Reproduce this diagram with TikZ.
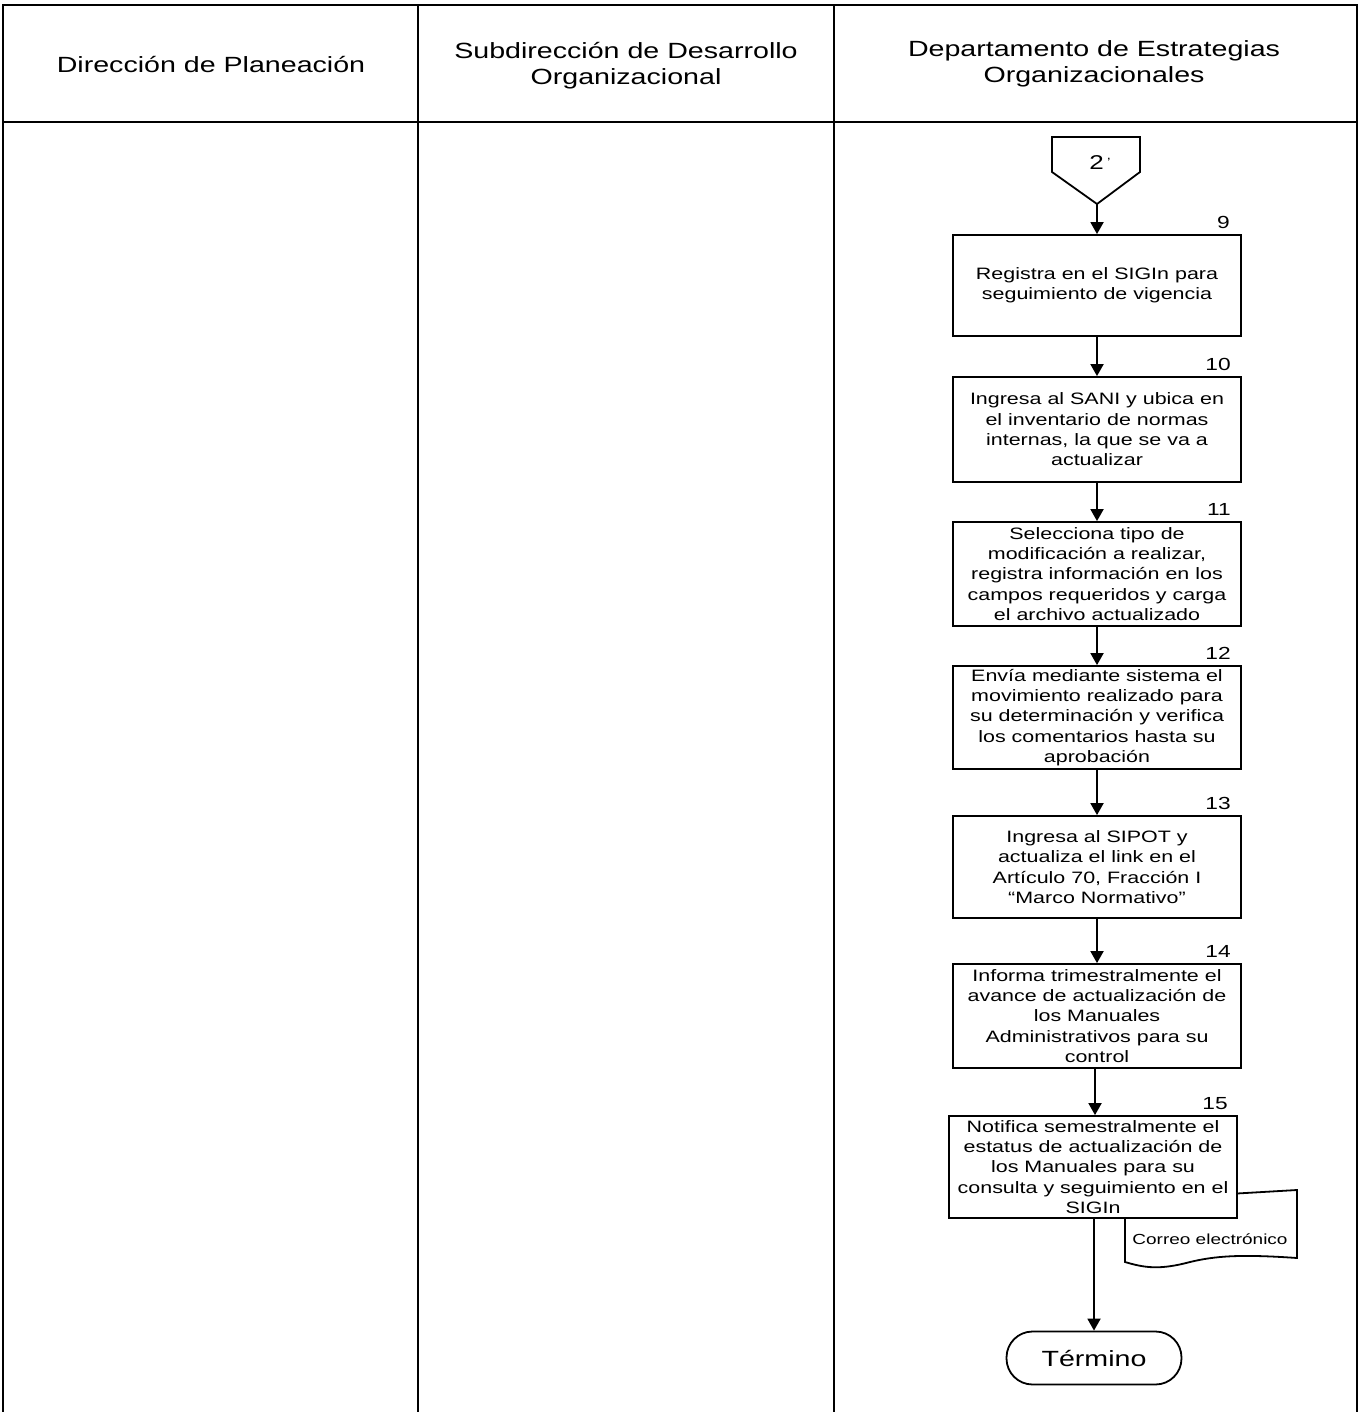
\documentclass[tikz,border=0pt]{standalone}
\usepackage{fontspec}
\setmainfont{Liberation Sans}[FakeStretch=1.3]
\usetikzlibrary{arrows.meta}
\begin{document}
\begin{tikzpicture}[x=1pt,y=-1pt,
  lane/.style={line width=1.6pt},
  hdr/.style={font=\fontsize{22}{26}\selectfont, align=center},
  proc/.style={draw, line width=1.8pt, fill=white, minimum width=288pt, align=center,
    inner sep=0pt, font=\fontsize{16.5}{20.3}\selectfont},
  num/.style={anchor=south east, inner sep=0pt, font=\fontsize{17.5}{20}\selectfont},
  flow/.style={line width=1.8pt, -{Triangle[length=12pt,width=13pt]}}]
\useasboundingbox (0,0) rectangle (1363,1412);
% lanes
\draw[lane] (3,1412) -- (3,5) -- (1357,5) -- (1357,1412);
\draw[lane] (418,5) -- (418,1412);
\draw[lane] (834,5) -- (834,1412);
\draw[lane] (3,122) -- (1357,122);
\node[hdr] (h1) at (211,65) {Dirección de Planeación};
\node[hdr] (h2) at (626,66) {Subdirección de Desarrollo\\Organizacional};
\node[hdr] (h3) at (1094,64) {Departamento de Estrategias\\Organizacionales};
% off-page connector
\draw[line width=1.8pt] (1052,137) -- (1140,137) -- (1140,172) -- (1097,204) -- (1052,172) -- cycle;
\coordinate (c2) at (1097,204);
\node[font=\fontsize{20}{24}\selectfont] (c2t) at (1100,163) {2\,\raisebox{0.35ex}{\fontsize{12}{12}\selectfont '}};
% boxes
\node[proc, minimum height=101pt] (b9) at (1097,285.5) {Registra en el SIGIn para\\seguimiento de vigencia};
\node[proc, minimum height=105pt] (b10) at (1097,429.5) {Ingresa al SANI y ubica en\\el inventario de normas\\internas, la que se va a\\actualizar};
\node[proc, minimum height=104pt] (b11) at (1097,574) {Selecciona tipo de\\modificación a realizar,\\registra información en los\\campos requeridos y carga\\el archivo actualizado};
\node[proc, minimum height=103pt] (b12) at (1097,717.5) {Envía mediante sistema el\\movimiento realizado para\\su determinación y verifica\\los comentarios hasta su\\aprobación};
\node[proc, minimum height=102pt] (b13) at (1097,867) {Ingresa al SIPOT y\\actualiza el link en el\\Artículo 70, Fracción I\\“Marco Normativo”};
\node[proc, minimum height=104pt] (b14) at (1097,1016) {Informa trimestralmente el\\avance de actualización de\\los Manuales\\Administrativos para su\\control};
% document (behind box 15)
\draw[line width=1.8pt, fill=white] (1125,1200) -- (1297,1190) -- (1297,1258)
  .. controls (1240,1254) and (1215,1256) .. (1190,1262)
  .. controls (1160,1270) and (1145,1268) .. (1125,1262) -- cycle;
\node[font=\fontsize{14.6}{17}\selectfont] (doc) at (1210,1239) {Correo electrónico};
\node[proc, minimum height=102pt] (b15) at (1093,1167) {Notifica semestralmente el\\estatus de actualización de\\los Manuales para su\\consulta y seguimiento en el\\SIGIn};
% numbers
\node[num] (n9) at (b9.north east) [xshift=-12pt,yshift=5pt] {9};
\node[num] (n10) at (b10.north east) [xshift=-11pt,yshift=5pt] {10};
\node[num] (n11) at (b11.north east) [xshift=-11pt,yshift=5pt] {11};
\node[num] (n12) at (b12.north east) [xshift=-11pt,yshift=5pt] {12};
\node[num] (n13) at (b13.north east) [xshift=-11pt,yshift=5pt] {13};
\node[num] (n14) at (b14.north east) [xshift=-11pt,yshift=5pt] {14};
\node[num] (n15) at (b15.north east) [xshift=-10pt,yshift=5pt] {15};
% terminator
\node[draw, line width=1.8pt, rounded corners=26pt, minimum width=175pt, minimum height=53pt,
  font=\fontsize{22}{26}\selectfont] (end) at (1094,1358) {Término};
% arrows
\draw[flow] (c2) -- (b9);
\draw[flow] (b9) -- (b10);
\draw[flow] (b10) -- (b11);
\draw[flow] (b11) -- (b12);
\draw[flow] (b12) -- (b13);
\draw[flow] (b13) -- (b14);
\draw[flow] (b14.south -| 1095,0) -- (b15.north -| 1095,0);
\draw[flow] (b15.south -| 1094,0) -- (end.north -| 1094,0);
\end{tikzpicture}
\end{document}
